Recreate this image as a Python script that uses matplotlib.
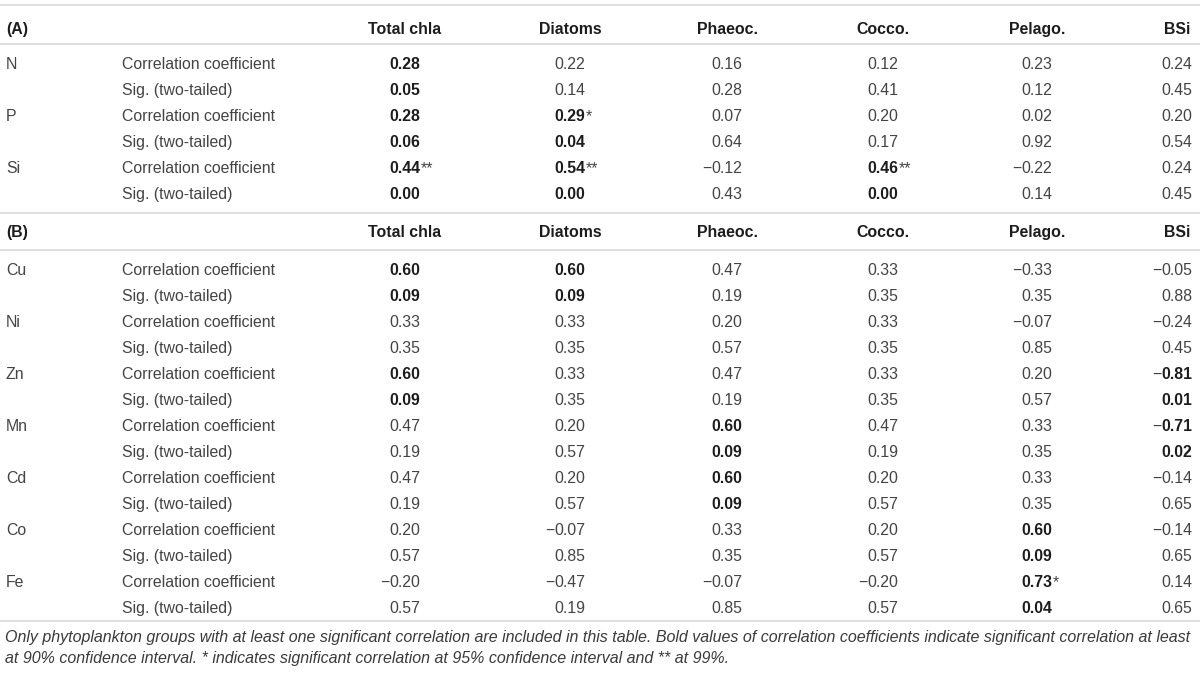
import matplotlib
matplotlib.use("Agg")
import matplotlib.pyplot as plt

# ---------------- data ----------------
columns = ["Total chla", "Diatoms", "Phaeoc.", "Cocco.", "Pelago.", "BSi"]

a_vars = ["N", "P", "Si"]
a_corr = [
    [0.28, 0.22, 0.16, 0.12, 0.23, 0.24],
    [0.28, 0.29, 0.07, 0.20, 0.02, 0.20],
    [0.44, 0.54, -0.12, 0.46, -0.22, 0.24],
]
a_sig = [
    [0.05, 0.14, 0.28, 0.41, 0.12, 0.45],
    [0.06, 0.04, 0.64, 0.17, 0.92, 0.54],
    [0.00, 0.00, 0.43, 0.00, 0.14, 0.45],
]
a_stars = [
    ["", "", "", "", "", ""],
    ["", "*", "", "", "", ""],
    ["**", "**", "", "**", "", ""],
]

b_vars = ["Cu", "Ni", "Zn", "Mn", "Cd", "Co", "Fe"]
b_corr = [
    [0.60, 0.60, 0.47, 0.33, -0.33, -0.05],
    [0.33, 0.33, 0.20, 0.33, -0.07, -0.24],
    [0.60, 0.33, 0.47, 0.33, 0.20, -0.81],
    [0.47, 0.20, 0.60, 0.47, 0.33, -0.71],
    [0.47, 0.20, 0.60, 0.20, 0.33, -0.14],
    [0.20, -0.07, 0.33, 0.20, 0.60, -0.14],
    [-0.20, -0.47, -0.07, -0.20, 0.73, 0.14],
]
b_sig = [
    [0.09, 0.09, 0.19, 0.35, 0.35, 0.88],
    [0.35, 0.35, 0.57, 0.35, 0.85, 0.45],
    [0.09, 0.35, 0.19, 0.35, 0.57, 0.01],
    [0.19, 0.57, 0.09, 0.19, 0.35, 0.02],
    [0.19, 0.57, 0.09, 0.57, 0.35, 0.65],
    [0.57, 0.85, 0.35, 0.57, 0.09, 0.65],
    [0.57, 0.19, 0.85, 0.57, 0.04, 0.65],
]
b_stars = [
    ["", "", "", "", "", ""],
    ["", "", "", "", "", ""],
    ["", "", "", "", "", ""],
    ["", "", "", "", "", ""],
    ["", "", "", "", "", ""],
    ["", "", "", "", "", ""],
    ["", "", "", "", "*", ""],
]

row_labels = ["Correlation coefficient", "Sig. (two-tailed)"]
footnote = [
    "Only phytoplankton groups with at least one significant correlation are included in this table. "
    "Bold values of correlation coefficients indicate significant correlation at least",
    "at 90% confidence interval. * indicates significant correlation at 95% confidence interval and ** at 99%.",
]
sig_threshold = 0.10

# ---------------- layout / style ----------------
FONT = "Liberation Sans"
FS = 11.4
C_REG = "#444444"
C_BOLD = "#1c1c1c"
C_LINE = "#d6d6d6"
LW = 1.1

col_centers = [405, 570, 727, 883, 1037, 1177]
half_num = 15.5
x_var = 6
x_lab = 122
cap_half = 5.6

fig = plt.figure(figsize=(12, 6.78), dpi=100)
ax = fig.add_axes([0, 0, 1, 1])
ax.set_xlim(0, 1200)
ax.set_ylim(678, 0)
ax.axis("off")
renderer = fig.canvas.get_renderer()


def hline(y):
    ax.plot([0, 1200], [y, y], color=C_LINE, lw=LW, solid_capstyle="butt")


def txt(x, y, s, bold=False, ha="left", italic=False, color=None, size=FS):
    return ax.text(x, y + cap_half, s, fontsize=size, family=FONT,
                   fontweight="bold" if bold else "normal",
                   fontstyle="italic" if italic else "normal",
                   color=color or (C_BOLD if bold else C_REG),
                   ha=ha, va="baseline")


def value(ci, y, v, bold, stars=""):
    xr = col_centers[ci] + half_num
    t = txt(xr, y, f"{abs(v):.2f}", bold=bold, ha="right")
    if v < 0:
        bb = t.get_window_extent(renderer)
        txt(bb.x0 - 0.5, y, "\u2212", bold=False, ha="right")
    if stars:
        txt(xr + 0.5, y, stars, bold=False, ha="left")


def block(label, y_head, vars_, corr, sig, stars, y_first):
    txt(x_var, y_head, label, bold=True)
    for ci, c in enumerate(columns):
        txt(col_centers[ci], y_head, c, bold=True, ha="center")
    for ri, var in enumerate(vars_):
        y1 = y_first + ri * 52
        y2 = y1 + 26
        txt(x_var, y1, var)
        txt(x_lab, y1, row_labels[0])
        txt(x_lab, y2, row_labels[1])
        for ci in range(len(columns)):
            b = sig[ri][ci] <= sig_threshold
            value(ci, y1, corr[ri][ci], b, stars[ri][ci])
            value(ci, y2, sig[ri][ci], b)


hline(5)
block("(A)", 28.5, a_vars, a_corr, a_sig, a_stars, 63.5)
hline(44)
hline(213)
block("(B)", 231.5, b_vars, b_corr, b_sig, b_stars, 269.5)
hline(250)
hline(621)

for i, line in enumerate(footnote):
    txt(5, 636.5 + i * 21, line, italic=True, color="#3a3a3a", size=11.5)

fig.savefig("out.png", dpi=100)
